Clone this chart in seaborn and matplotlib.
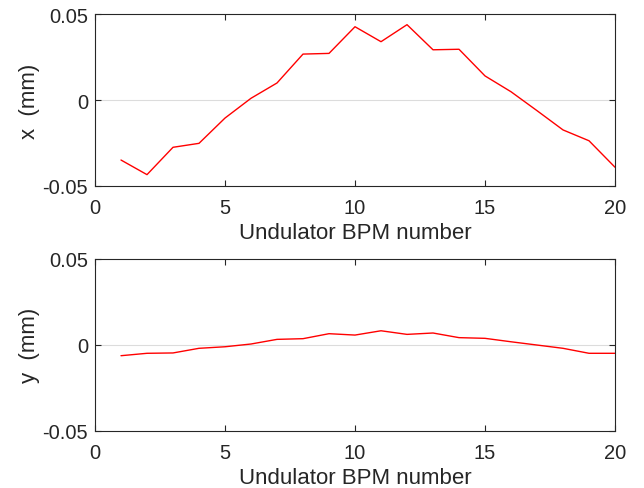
import matplotlib
matplotlib.use("Agg")
import matplotlib.pyplot as plt
import seaborn as sns
import pandas as pd
import numpy as np

bpm = list(range(1, 21))
x_orbit = [-0.0349, -0.0434, -0.0275, -0.0252, -0.0105, 0.0010, 0.0099, 0.0267,
           0.0271, 0.0426, 0.0339, 0.0438, 0.0292, 0.0295, 0.0140, 0.0048,
           -0.0062, -0.0174, -0.0237, -0.0391]
y_orbit = [-0.0064, -0.0050, -0.0048, -0.0021, -0.0012, 0.0004, 0.0031, 0.0035,
           0.0064, 0.0056, 0.0081, 0.0060, 0.0068, 0.0041, 0.0037, 0.0017,
           -0.0002, -0.0021, -0.0050, -0.0050]
xticks = [0, 5, 10, 15, 20]
yticks = [-0.05, 0, 0.05]
ytick_labels = ["-0.05", "0", "0.05"]

sns.set_style("ticks")
plt.rcParams["font.family"] = ["Liberation Sans", "DejaVu Sans"]
axis_color = "#262626"

fig = plt.figure(figsize=(6.44, 4.89), dpi=100)
ax_top = fig.add_axes([0.1475, 0.6176, 0.8075, 0.3517])
ax_bot = fig.add_axes([0.1475, 0.1172, 0.8075, 0.3517])

df = pd.DataFrame({"bpm": bpm, "x": x_orbit, "y": y_orbit})

for ax, col, label in [(ax_top, "x", "x  (mm)"), (ax_bot, "y", "y  (mm)")]:
    ax.axhline(0, color="#dcdcdc", lw=0.8, zorder=0)
    sns.lineplot(data=df, x="bpm", y=col, ax=ax, color="red", lw=1.0)
    ax.set_xlim(0, 20)
    ax.set_ylim(-0.05, 0.05)
    ax.set_xticks(xticks)
    ax.set_yticks(yticks)
    ax.set_yticklabels(ytick_labels)
    ax.set_xlabel("Undulator BPM number", fontsize=16, color=axis_color, labelpad=3.5)
    ax.set_ylabel(label, fontsize=16, color=axis_color, labelpad=2)
    ax.tick_params(axis="both", direction="in", top=True, right=True, labelsize=14.5,
                   colors=axis_color, length=4, width=0.8)
    ax.tick_params(axis="x", pad=9)
    ax.tick_params(axis="y", pad=5)
    for s in ax.spines.values():
        s.set_visible(True)
        s.set_color(axis_color)
        s.set_linewidth(0.8)

fig.savefig("out.png", dpi=100)
